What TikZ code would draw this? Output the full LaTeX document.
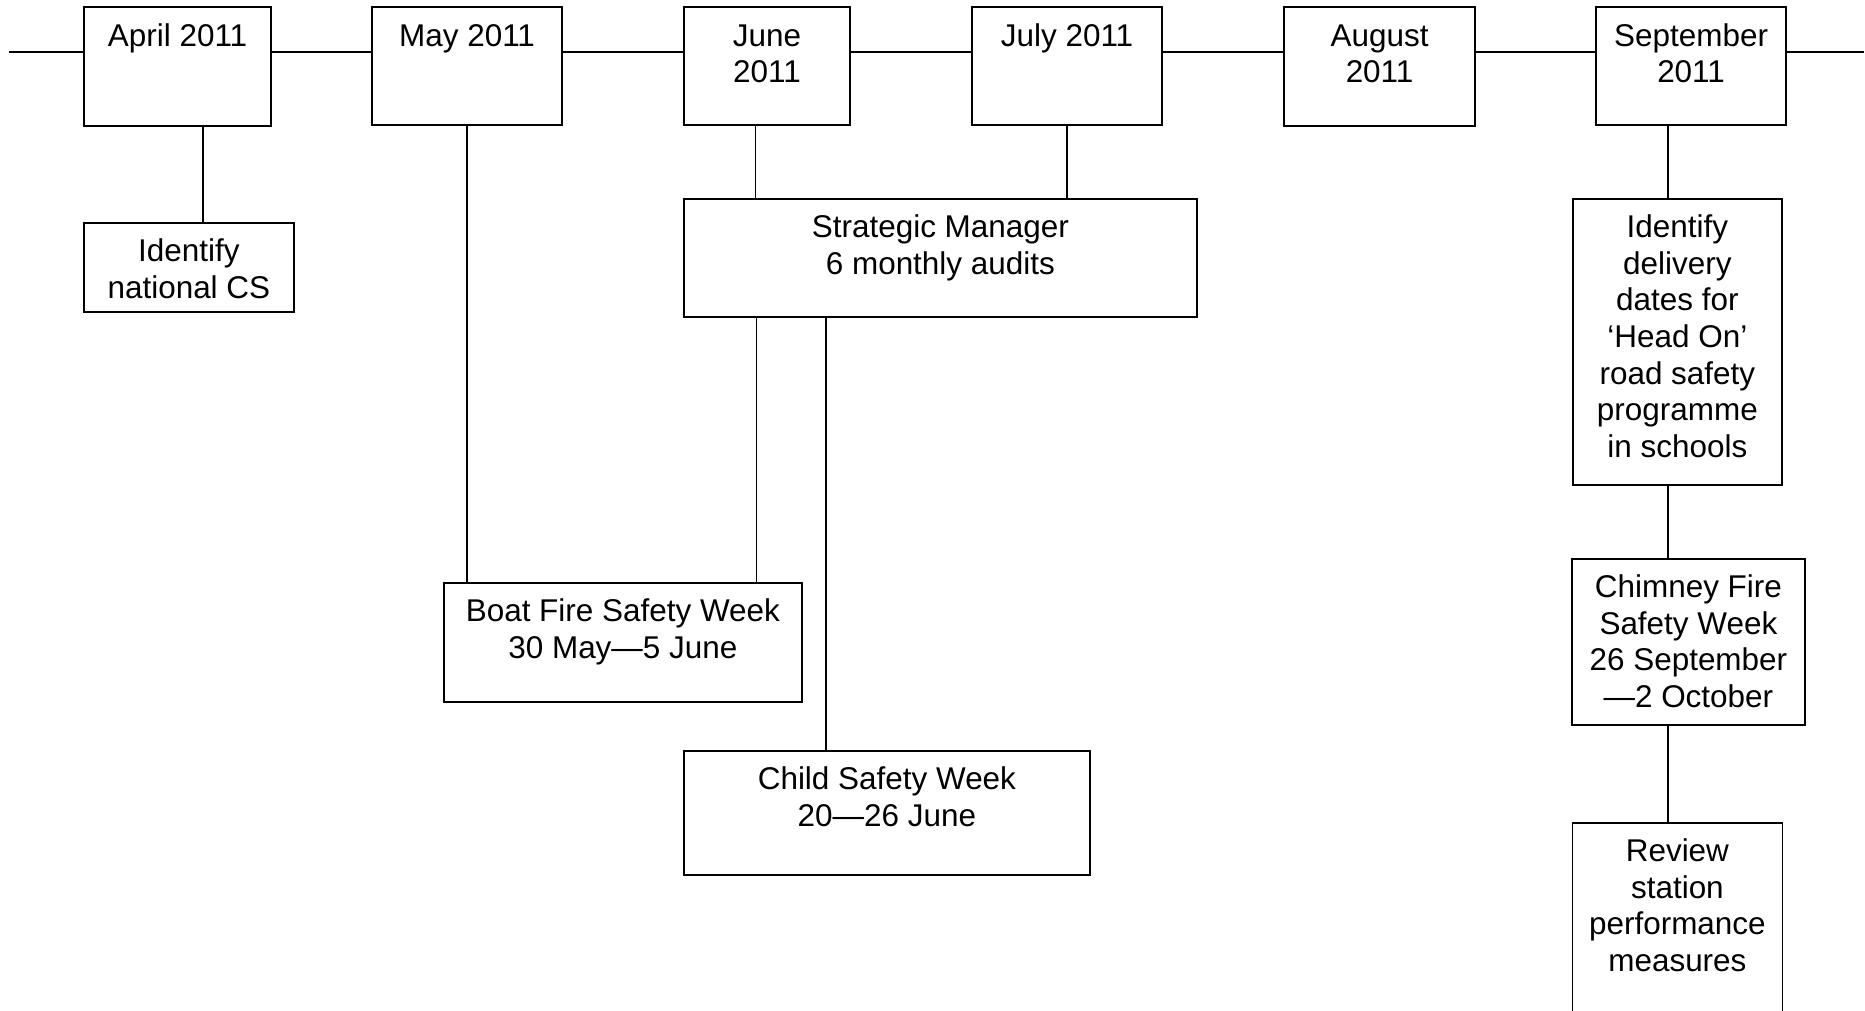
\documentclass[tikz,border=0pt]{standalone}
\usepackage{fontspec}
\setmainfont{Liberation Sans}
\newcommand{\celltext}[3]{\parbox[c][#2][t]{#1}{\centering\rule{0pt}{0.78cm}#3}}

\begin{document}
\begin{tikzpicture}[
	% Styles for the month boxes, activity boxes and links
	every node/.style={font=\fontsize{17.9pt}{20.8pt}\selectfont},
	monthbox/.style={draw=black, line width=1.2pt, fill=white, anchor=north west, inner sep=0pt},
	taskbox/.style={draw=black, line width=1.0pt, fill=white, anchor=north west, inner sep=0pt},
	link/.style={draw=black, line width=0.7pt}
	]
	
	\useasboundingbox (0,0) rectangle (37.30,-20.20);
	
	% ==========================================
	% 1. MONTHS ON THE TIMELINE
	% ==========================================
	% Top edge at y=-0.12, timeline at y=-1.04
	\node[monthbox] (april) at (1.66,-0.12) {\celltext{3.74cm}{2.38cm}{April 2011}};
	\node[monthbox] (may) at (7.42,-0.12) {\celltext{3.80cm}{2.36cm}{May 2011}};
	\node[monthbox] (june) at (13.66,-0.12) {\celltext{3.32cm}{2.36cm}{June\\2011}};
	\node[monthbox] (july) at (19.42,-0.12) {\celltext{3.80cm}{2.36cm}{July 2011}};
	\node[monthbox] (august) at (25.66,-0.12) {\celltext{3.82cm}{2.38cm}{August\\2011}};
	\node[monthbox] (september) at (31.90,-0.12) {\celltext{3.80cm}{2.36cm}{September\\2011}};
	
	\coordinate (tlstart) at (0.18,-1.04);
	\coordinate (tlend) at (37.28,-1.04);
	\draw[link] (tlstart) -- (april.west |- tlstart);
	\draw[link] (april.east |- tlstart) -- (may.west |- tlstart);
	\draw[link] (may.east |- tlstart) -- (june.west |- tlstart);
	\draw[link] (june.east |- tlstart) -- (july.west |- tlstart);
	\draw[link] (july.east |- tlstart) -- (august.west |- tlstart);
	\draw[link] (august.east |- tlstart) -- (september.west |- tlstart);
	\draw[link] (september.east |- tlend) -- (tlend);
	
	% ==========================================
	% 2. ACTIVITIES
	% ==========================================
	\node[taskbox] (natcs) at (1.66,-4.44) {\celltext{4.20cm}{1.78cm}{Identify\\national CS}};
	\node[taskbox] (strat) at (13.66,-3.96) {\celltext{10.26cm}{2.36cm}{Strategic Manager\\6 monthly audits}};
	\node[taskbox] (boat) at (8.86,-11.64) {\celltext{7.16cm}{2.38cm}{Boat Fire Safety Week\\30 May—5 June}};
	\node[taskbox] (child) at (13.66,-15.00) {\celltext{8.12cm}{2.48cm}{Child Safety Week\\20—26 June}};
	\node[taskbox] (headon) at (31.44,-3.96) {\celltext{4.18cm}{5.72cm}{Identify\\delivery\\dates for\\‘Head On’\\road safety\\programme\\in schools}};
	\node[taskbox] (chimney) at (31.42,-11.16) {\celltext{4.66cm}{3.32cm}{Chimney Fire\\Safety Week\\26 September\\—2 October}};
	\node[taskbox] (review) at (31.43,-16.44) {\celltext{4.20cm}{4.20cm}{Review\\station\\performance\\measures}};
	
	% Links from the months down to the activities
	\draw[link] ([xshift=0.51cm]april.south) -- ([xshift=0.51cm]april.south |- natcs.north);
	\draw[link] (may.south) -- (may.south |- boat.north);
	\draw[link] ([xshift=-0.23cm]june.south) -- ([xshift=-0.23cm]june.south |- strat.north);
	\draw[link] (july.south) -- (july.south |- strat.north);
	\draw[link] ([xshift=-0.93cm]boat.north east |- strat.south) -- ([xshift=-0.93cm]boat.north east);
	\draw[link] ([xshift=2.86cm]child.north west |- strat.south) -- ([xshift=2.86cm]child.north west);
	\draw[link] ([xshift=-0.46cm]september.south) -- ([xshift=-0.46cm]september.south |- headon.north);
	\draw[link] ([xshift=-0.19cm]headon.south) -- ([xshift=-0.19cm]headon.south |- chimney.north);
	\draw[link] ([xshift=-0.19cm]review.north |- chimney.south) -- ([xshift=-0.19cm]review.north);
\end{tikzpicture}
\end{document}
